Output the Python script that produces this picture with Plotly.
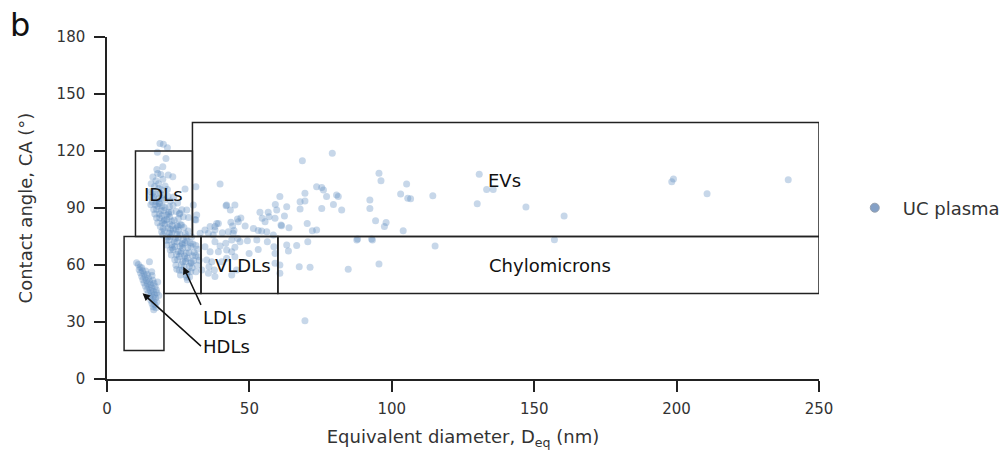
import plotly.graph_objects as go

# ---------------- data ----------------
# HDL cluster
hdl_x = [10.4, 11.6, 14.9, 15.7, 11.0, 12.2, 11.3, 12.5, 13.6, 11.8, 13.0, 14.2, 12.2, 13.4, 14.6, 15.8,
         12.6, 13.8, 15.0, 16.1, 13.0, 14.2, 15.4, 16.5, 13.5, 14.7, 15.8, 16.9, 14.0, 15.2, 16.3, 17.3,
         14.5, 15.6, 16.7, 17.5, 15.0, 16.1, 17.1, 15.4, 16.5, 17.5, 15.8, 16.8, 16.2, 17.2, 16.4, 17.8, 18.2]
hdl_y = [61.2, 59.0, 61.7, 56.5, 60.2, 58.5, 57.5, 57.0, 56.8, 55.8, 55.2, 55.0, 54.0, 53.5, 53.2, 54.5,
         52.3, 51.8, 51.5, 52.0, 50.5, 50.0, 49.8, 50.4, 48.8, 48.3, 48.0, 48.7, 47.0, 46.6, 46.2, 47.0,
         45.2, 44.8, 44.4, 45.4, 43.3, 43.0, 42.6, 41.5, 41.0, 40.5, 39.7, 39.2, 38.0, 37.5, 36.5, 51.0, 44.0]

# IDL / LDL dense band
band_x = [17.5, 18.9, 16.1, 19.6, 17.2, 18.1, 15.5, 20.4, 16.7, 18.2, 19.1, 21.2, 15.3,
          16.2, 17.0, 18.7, 19.5, 21.4, 15.6, 16.4, 18.1, 19.2, 20.2, 22.3, 15.9, 17.3, 18.3, 23.4, 24.8,
          15.4, 16.9, 17.8, 19.4, 20.3, 21.9, 23.2, 16.4, 17.4, 19.0, 19.9, 21.6, 22.5, 24.3, 16.8, 18.4,
          19.3, 20.9, 22.0, 25.4, 26.3,
          17.4, 18.5, 20.1, 21.0, 22.7, 23.6, 25.1, 17.8, 19.4, 20.3, 22.0, 22.9, 24.6, 25.8, 18.7, 19.7,
          21.4, 22.3, 24.1, 25.1, 27.0,
          19.2, 20.2, 21.9, 22.8, 24.6, 25.6, 27.5, 28.5, 19.6, 21.3, 22.3, 24.0, 25.0, 26.8, 27.8, 29.7,
          20.8, 21.8, 23.6, 24.6, 26.4, 27.4, 29.2,
          21.0, 22.8, 23.8, 25.6, 26.6, 28.4, 29.5, 31.2, 22.2, 23.2, 25.0, 26.0, 27.8, 28.8, 30.6, 31.8,
          22.6, 24.4, 25.4, 27.2, 28.2, 30.0, 31.1,
          23.8, 24.8, 26.6, 27.6, 29.4, 30.4, 32.4, 24.2, 26.1, 27.1, 28.9, 29.9, 31.7, 25.4, 26.5, 28.3,
          29.4, 31.2, 25.8, 27.8, 29.0, 28.2, 24.5, 28.0,
          18.4, 20.0, 21.6, 23.3, 24.9, 26.4, 28.1, 29.6, 30.2, 27.5, 25.9, 22.9]
band_y = [110.2, 107.6, 106.3, 105.1, 104.4, 102.7, 102.8, 101.6, 101.3, 100.2, 99.6, 99.8, 98.6,
          98.3, 97.2, 97.9, 96.8, 96.2, 95.7, 95.9, 94.9, 95.1, 94.2, 93.7, 93.2, 93.4, 92.5, 95.8, 92.6,
          91.7, 91.9, 90.9, 91.1, 90.2, 90.6, 91.3, 89.2, 89.4, 88.5, 88.8, 87.7, 87.9, 88.2, 86.8, 86.9,
          85.9, 86.3, 85.4, 86.8, 89.1,
          84.7, 84.9, 83.7, 84.1, 83.1, 83.5, 84.5, 82.2, 82.3, 81.4, 81.6, 80.7, 81.0, 81.2, 80.3, 79.2,
          79.6, 78.7, 79.1, 78.2, 79.8,
          77.5, 77.7, 76.7, 76.9, 75.9, 76.3, 76.5, 77.9, 75.8, 74.7, 75.0, 74.0, 74.4, 73.4, 74.8, 74.9,
          72.9, 73.1, 72.1, 72.3, 71.3, 71.7, 71.7,
          70.5, 70.7, 69.7, 69.9, 68.9, 69.1, 69.8, 70.2, 67.9, 68.1, 67.1, 67.3, 66.3, 66.5, 66.7, 68.3,
          65.3, 65.5, 64.5, 64.7, 63.7, 64.9, 65.0,
          62.7, 62.9, 61.7, 61.9, 60.9, 62.3, 62.5, 59.9, 60.1, 59.1, 59.3, 58.5, 59.9, 57.2, 57.3, 56.3,
          56.5, 56.5, 54.7, 54.8, 53.7, 52.3, 57.7, 53.6,
          92.4, 83.1, 86.9, 78.4, 80.2, 70.6, 72.6, 61.5, 71.1, 63.1, 66.0, 69.1]

# scattered points near the top of the IDL box and right of the band
idl_x = [18.6, 19.8, 21.2, 17.7, 20.7, 19.6, 23.1, 21.5, 17.8, 27.4, 31.2, 26.2, 28.0, 28.6, 30.3,
         30.9, 32.7, 34.4, 36.2, 38.5, 37.9, 31.5, 31.2, 25.6, 26.8]
idl_y = [124.0, 123.5, 121.7, 119.3, 116.1, 111.7, 106.5, 107.4, 108.2, 100.0, 101.2, 81.0, 88.9, 85.0, 91.6,
         84.0, 76.7, 78.4, 80.2, 81.9, 78.4, 86.3, 83.7, 87.2, 85.4]

# VLDL region and surroundings (x 32-62)
vldl_x = [39.7, 41.8, 43.3, 39.1, 37.9, 43.5, 45.8, 47.0, 46.1, 44.1, 44.6, 48.5, 53.7, 56.6, 54.5,
          56.9, 55.5, 59.0, 59.6, 62.3, 51.4, 53.1, 54.3, 56.1, 61.1, 58.4, 35.6, 37.3, 40.5, 42.6,
          44.3, 45.9, 46.7, 43.8, 41.7, 37.9, 49.3, 52.6, 56.3, 49.9, 53.1, 58.6, 59.0, 34.4, 36.2,
          39.1, 42.0, 43.8, 44.9, 39.7, 32.1, 35.0, 36.8, 40.3, 42.0, 44.9, 35.8, 37.7, 45.5, 59.0,
          60.7, 33.3, 35.6, 37.9, 43.8, 42.0, 44.9, 59.1]
vldl_y = [102.6, 91.2, 88.9, 81.9, 80.2, 82.5, 84.2, 84.7, 82.8, 80.5, 78.1, 80.5, 87.7, 87.7, 84.6,
          85.4, 82.8, 84.6, 88.9, 85.8, 79.2, 78.1, 77.9, 77.5, 81.1, 75.8, 76.7, 75.8, 77.0, 77.5,
          76.7, 74.0, 72.3, 73.2, 71.4, 72.3, 72.8, 73.2, 72.3, 66.1, 68.2, 69.6, 66.1, 69.6, 67.0,
          67.0, 67.9, 67.0, 69.3, 70.0, 64.4, 62.6, 61.7, 61.7, 63.5, 64.4, 59.1, 57.4, 57.4, 60.9,
          60.0, 57.4, 55.6, 53.9, 54.7, 91.6, 91.6, 91.9]

# larger particles (x > 60)
big_x = [60.7, 63.1, 67.8, 67.8, 69.5, 69.5, 68.6, 79.1, 73.6, 75.4, 76.0, 77.1, 80.6, 81.2, 79.5,
         75.4, 82.4, 92.3, 92.3, 95.5, 96.2, 103.1, 105.2, 105.6, 106.6, 114.4, 94.3, 98.0, 97.4,
         104.0, 61.3, 63.9, 70.3, 72.1, 73.6, 63.1, 63.7, 66.6, 70.5, 87.7, 88.0, 92.9, 93.2, 67.5,
         71.3, 84.7, 95.5, 60.7, 69.5, 115.2, 130.7, 133.3, 135.6, 130.0, 147.1, 160.5, 157.1,
         198.3, 198.9, 210.7, 239.2]
big_y = [96.0, 90.7, 93.3, 89.5, 93.7, 97.7, 114.9, 118.8, 101.2, 100.8, 99.5, 96.0, 96.8, 96.0, 91.9,
         89.8, 88.9, 94.2, 89.8, 108.3, 104.4, 97.4, 102.6, 95.1, 94.9, 96.5, 83.3, 82.4, 80.2,
         78.0, 80.7, 79.6, 81.9, 78.0, 78.4, 70.5, 67.4, 70.2, 72.3, 73.1, 73.7, 73.7, 73.2, 59.1,
         58.8, 57.7, 60.5, 55.6, 30.7, 70.0, 107.7, 99.8, 99.8, 92.3, 90.5, 85.8, 73.3,
         103.8, 105.3, 97.5, 104.9]

# region boxes
box_names = ["HDLs", "IDLs", "LDLs", "VLDLs", "Chylomicrons", "EVs"]
box_x0 = [6, 10, 20, 33, 60, 30]
box_x1 = [20, 30, 33, 60, 250, 250]
box_y0 = [15, 75, 45, 45, 45, 75]
box_y1 = [75, 120, 75, 75, 75, 135]

x_ticks = [0, 50, 100, 150, 200, 250]
y_ticks = [0, 30, 60, 90, 120, 150, 180]

# ---------------- figure ----------------
xs = hdl_x + band_x + idl_x + vldl_x + big_x
ys = hdl_y + band_y + idl_y + vldl_y + big_y

FONT = "DejaVu Sans, Verdana, sans-serif"
TXT = "#333333"

fig = go.Figure()
fig.add_trace(go.Scatter(
    x=xs, y=ys, mode="markers", name="UC plasma", showlegend=False,
    marker=dict(size=7, color="rgb(95,140,192)", opacity=0.35, line=dict(width=0)),
))
# legend entry for the same series
fig.add_trace(go.Scatter(
    x=[None], y=[None], mode="markers", name="UC plasma",
    marker=dict(size=9, color="rgb(132,160,198)", line=dict(width=1, color="rgb(150,160,175)")),
))

for i in range(len(box_names)):
    fig.add_shape(type="rect", xref="x", yref="y",
                  x0=box_x0[i], x1=box_x1[i], y0=box_y0[i], y1=box_y1[i],
                  line=dict(color="#222222", width=1.5), fillcolor="rgba(0,0,0,0)", layer="above")

label_font = dict(family=FONT, size=18, color="#111111")
fig.add_annotation(x=19.8, y=97.0, text="IDLs", showarrow=False, font=label_font)
fig.add_annotation(x=47.8, y=59.5, text="VLDLs", showarrow=False, font=label_font)
fig.add_annotation(x=155.5, y=60.0, text="Chylomicrons", showarrow=False, font=label_font)
fig.add_annotation(x=139.5, y=104.5, text="EVs", showarrow=False, font=label_font)
fig.add_annotation(x=26.8, y=59.1, ax=33.0, ay=39.0, axref="x", ayref="y",
                   xanchor="left", yanchor="top", text="LDLs", showarrow=True,
                   arrowhead=2, arrowsize=1, arrowwidth=1.5, arrowcolor="#111111", font=label_font)
fig.add_annotation(x=12.5, y=45.1, ax=33.0, ay=17.3, axref="x", ayref="y",
                   xanchor="left", yanchor="middle", text="HDLs", showarrow=True,
                   arrowhead=2, arrowsize=1, arrowwidth=1.5, arrowcolor="#111111", font=label_font)

fig.add_annotation(xref="paper", yref="paper", x=-0.122, y=1.035, text="b", showarrow=False,
                   font=dict(family=FONT, size=32, color="#111111"), xanchor="center", yanchor="middle")

axis_common = dict(showline=True, linecolor="#222222", linewidth=1.5, ticks="outside", ticklen=11,
                   tickwidth=1.5, tickcolor="#222222", showgrid=False, zeroline=False,
                   tickfont=dict(family=FONT, size=15, color=TXT), automargin=False)

fig.update_layout(
    width=1005, height=450,
    margin=dict(l=107, r=186, t=37, b=71, autoexpand=False),
    paper_bgcolor="white", plot_bgcolor="white",
    font=dict(family=FONT, color=TXT),
    xaxis=dict(range=[0, 250], tickvals=x_ticks, ticklabelstandoff=4,
               title=dict(text="Equivalent diameter, D<sub>eq</sub> (nm)",
                          font=dict(family=FONT, size=18, color=TXT), standoff=14),
               **axis_common),
    yaxis=dict(range=[0, 180], tickvals=y_ticks, ticklabelstandoff=6,
               title=dict(text="Contact angle, CA (°)",
                          font=dict(family=FONT, size=18, color=TXT), standoff=19),
               **axis_common),
    legend=dict(x=1.039, y=0.5, xanchor="left", yanchor="middle", itemwidth=46,
                font=dict(family=FONT, size=18, color=TXT), bgcolor="rgba(0,0,0,0)"),
)

fig.write_html("out.html")
